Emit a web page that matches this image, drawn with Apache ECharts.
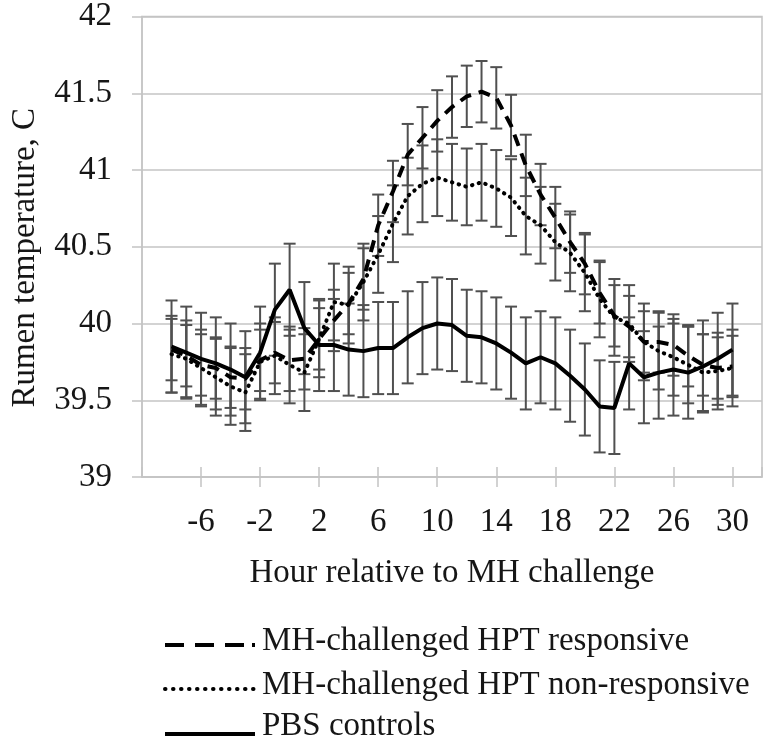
<!DOCTYPE html>
<html>
<head>
<meta charset="utf-8">
<script src="https://cdn.jsdelivr.net/npm/echarts@6/dist/echarts.min.js"></script>
<style>
html,body{margin:0;padding:0;background:#fff;}
#chart{width:768px;height:742px;}
</style>
</head>
<body>
<div id="chart"></div>
<script>
// Hours relative to MH challenge
const hours = [-8,-7,-6,-5,-4,-3,-2,-1,0,1,2,3,4,5,6,7,8,9,10,11,12,13,14,15,16,17,18,19,20,21,22,23,24,25,26,27,28,29,30];

// MH-challenged HPT responsive (dashed)
const responsive = [39.83,39.79,39.73,39.71,39.65,39.64,39.76,39.81,39.76,39.77,39.90,40.02,40.13,40.29,40.64,40.86,41.10,41.21,41.32,41.41,41.48,41.51,41.47,41.29,41.03,40.84,40.69,40.53,40.39,40.20,40.05,39.98,39.88,39.88,39.86,39.79,39.73,39.71,39.72];
const responsiveSE = [0.20,0.20,0.20,0.20,0.20,0.20,0.20,0.20,0.20,0.20,0.20,0.20,0.20,0.20,0.20,0.20,0.20,0.20,0.20,0.20,0.20,0.20,0.20,0.20,0.20,0.20,0.20,0.20,0.20,0.20,0.20,0.20,0.20,0.20,0.20,0.20,0.20,0.20,0.20];

// MH-challenged HPT non-responsive (dotted)
const nonResponsive = [39.80,39.77,39.71,39.65,39.59,39.55,39.75,39.79,39.73,39.68,39.90,40.14,40.12,40.27,40.45,40.65,40.83,40.91,40.95,40.92,40.89,40.92,40.88,40.82,40.70,40.64,40.53,40.46,40.33,40.16,40.04,40.00,39.88,39.82,39.78,39.73,39.68,39.69,39.71];
const nonResponsiveSE = [0.25,0.25,0.25,0.25,0.25,0.25,0.25,0.25,0.25,0.25,0.25,0.25,0.25,0.25,0.25,0.25,0.25,0.25,0.25,0.25,0.25,0.25,0.25,0.25,0.25,0.25,0.25,0.25,0.25,0.25,0.25,0.25,0.25,0.25,0.25,0.25,0.25,0.25,0.25];

// PBS controls (solid)
const pbs = [39.85,39.81,39.77,39.74,39.70,39.65,39.81,40.09,40.22,39.97,39.86,39.86,39.83,39.82,39.84,39.84,39.91,39.97,40.00,39.99,39.92,39.91,39.87,39.81,39.74,39.78,39.74,39.66,39.57,39.46,39.45,39.74,39.65,39.68,39.70,39.68,39.72,39.77,39.83];
const pbsSE = [0.30,0.30,0.30,0.30,0.30,0.30,0.30,0.30,0.30,0.30,0.30,0.30,0.30,0.30,0.30,0.30,0.30,0.30,0.30,0.30,0.30,0.30,0.30,0.30,0.30,0.30,0.30,0.30,0.30,0.30,0.30,0.30,0.30,0.30,0.30,0.30,0.30,0.30,0.30];

const seriesNames = ['MH-challenged HPT responsive','MH-challenged HPT non-responsive','PBS controls'];
const xTitle = 'Hour relative to MH challenge';
const yTitle = 'Rumen temperature, C';

const FONT = 'Liberation Serif';
const TXT = '#161616';
const GRID = '#c4c4c4';
const BAR = '#505050';

const DASH = [12, 8];
const DOT = [0.5, 6.5];

function pts(v){ return hours.map((h,i)=>[h, v[i]]); }
function errs(v, se){ return hours.map((h,i)=>[h, +(v[i]-se[i]).toFixed(3), +(v[i]+se[i]).toFixed(3)]); }

function errRender(params, api){
  const x = api.value(0);
  const top = api.coord([x, api.value(2)]);
  const bot = api.coord([x, api.value(1)]);
  const hw = 6;
  const st = {stroke: BAR, lineWidth: 2};
  return {type:'group', children:[
    {type:'line', shape:{x1:top[0], y1:top[1], x2:bot[0], y2:bot[1]}, style:st},
    {type:'line', shape:{x1:top[0]-hw, y1:top[1], x2:top[0]+hw, y2:top[1]}, style:st},
    {type:'line', shape:{x1:bot[0]-hw, y1:bot[1], x2:bot[0]+hw, y2:bot[1]}, style:st}
  ]};
}

// legend: text via ECharts legend, the key samples (sitting on the text baseline) via graphic
const LEG_LEFT = 165, LEG_W = 88;
const legTops = [619, 663, 704];
const sampleY = [645, 689, 734];
const sampleDash = [[19,11,19,11,19,8,3,200], [0.5,7.5], null];
const sampleCap = ['butt','round','butt'];

function legendFor(i){
  return {
    data:[seriesNames[i]], orient:'vertical', left:LEG_LEFT - 2, top:legTops[i],
    itemWidth:LEG_W, itemHeight:14, itemGap:0,
    itemStyle:{opacity:0}, lineStyle:{opacity:0},
    textStyle:{fontFamily:FONT, fontSize:33, color:TXT, lineHeight:34},
    selectedMode:false
  };
}
function sampleFor(i){
  return {
    type:'line', silent:true, z:10,
    shape:{x1:LEG_LEFT, y1:sampleY[i], x2:LEG_LEFT + LEG_W + 2, y2:sampleY[i]},
    style:{stroke:'#000', lineWidth:4, lineDash:sampleDash[i], lineCap:sampleCap[i]}
  };
}

const chart = echarts.init(document.getElementById('chart'), null, {renderer:'canvas'});
const option = {
  backgroundColor:'#fff',
  animation:false,
  textStyle:{fontFamily:FONT, color:TXT},
  grid:{left:142, right:6, top:15, bottom:265, show:true, borderColor:GRID, borderWidth:1.5, containLabel:false},
  legend:[legendFor(0), legendFor(1), legendFor(2)],
  graphic:[sampleFor(0), sampleFor(1), sampleFor(2)],
  xAxis:[{
    type:'value', min:-10, max:32, interval:4,
    name:xTitle, nameLocation:'middle', nameGap:80,
    nameTextStyle:{fontFamily:FONT, fontSize:33, color:TXT},
    axisLine:{show:true, onZero:false, lineStyle:{color:GRID, width:1.5}},
    axisTick:{show:true, inside:false, length:10, lineStyle:{color:GRID, width:1.5}},
    axisLabel:{fontFamily:FONT, fontSize:33, color:TXT, margin:29, showMinLabel:false, showMaxLabel:false},
    splitLine:{show:false}
  },{
    type:'value', min:-10, max:32, interval:4, position:'bottom',
    axisLine:{show:false, onZero:false},
    axisTick:{show:true, inside:true, length:10, lineStyle:{color:GRID, width:1.5}},
    axisLabel:{show:false},
    splitLine:{show:false}
  }],
  yAxis:{
    type:'value', min:39, max:42, interval:0.5,
    name:yTitle, nameLocation:'middle', nameGap:100, nameRotate:90,
    nameTextStyle:{fontFamily:FONT, fontSize:33, color:TXT, padding:[0,22,0,0]},
    axisLine:{show:true, onZero:false, lineStyle:{color:GRID, width:1.5}},
    axisTick:{show:true, inside:false, length:10, lineStyle:{color:GRID, width:1.5}},
    axisLabel:{fontFamily:FONT, fontSize:33, color:TXT, margin:30},
    splitLine:{show:true, lineStyle:{color:GRID, width:1.5}}
  },
  series:[
    {type:'custom', name:'seResp', renderItem:errRender, data:errs(responsive, responsiveSE), encode:{x:0,y:[1,2]}, z:1, silent:true},
    {type:'custom', name:'seNon', renderItem:errRender, data:errs(nonResponsive, nonResponsiveSE), encode:{x:0,y:[1,2]}, z:1, silent:true},
    {type:'custom', name:'sePbs', renderItem:errRender, data:errs(pbs, pbsSE), encode:{x:0,y:[1,2]}, z:1, silent:true},
    {type:'line', name:seriesNames[0], data:pts(responsive), symbol:'none', z:3,
      lineStyle:{color:'#000', width:4, type:DASH, cap:'butt'}, itemStyle:{color:'#000'}},
    {type:'line', name:seriesNames[1], data:pts(nonResponsive), symbol:'none', z:3,
      lineStyle:{color:'#000', width:4, type:DOT, cap:'round'}, itemStyle:{color:'#000'}},
    {type:'line', name:seriesNames[2], data:pts(pbs), symbol:'none', z:3,
      lineStyle:{color:'#000', width:4, type:'solid'}, itemStyle:{color:'#000'}}
  ]
};
chart.setOption(option);
</script>
</body>
</html>
